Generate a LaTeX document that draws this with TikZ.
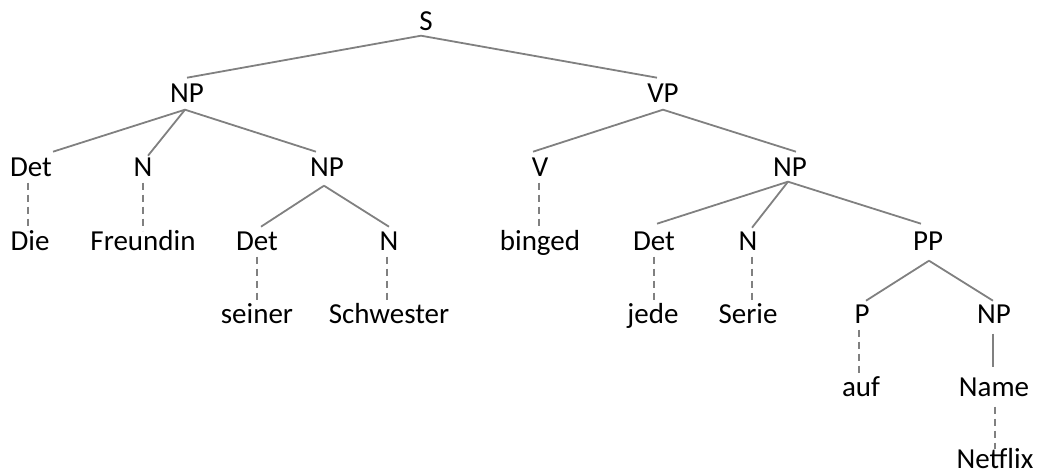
\documentclass[tikz,border=0pt]{standalone}
\usepackage{fontspec}
\setmainfont{Carlito}
\begin{document}
\begin{tikzpicture}[x=1pt,y=-1pt,
  lbl/.style={anchor=base,inner xsep=0pt,inner ysep=6pt,text height=18.6pt,text depth=0pt,
    font=\fontsize{29}{34}\selectfont},
  branch/.style={draw=black!50,line width=1.8pt},
  leaf/.style={draw=black!50,line width=1.8pt,dash pattern=on 7pt off 5pt,shorten >=-5pt}]
\useasboundingbox (0,0) rectangle (1039,476);

% phrase and word nodes, placed on their baselines
\node[lbl] (s)     at (426,30.5)  {S};
\node[lbl] (np1)   at (187,102.5) {NP};
\node[lbl] (vp)    at (663,102.5) {VP};
\node[lbl] (det1)  at (31,176.5)  {Det};
\node[lbl] (n1)    at (143,176.5) {N};
\node[lbl] (np2)   at (327,176.5) {NP};
\node[lbl] (v)     at (540,176.5) {V};
\node[lbl] (np3)   at (790,176.5) {NP};
\node[lbl] (die)   at (30,250.5)  {Die};
\node[lbl] (freu)  at (143,250.5) {Freundin};
\node[lbl] (det2)  at (257,250.5) {Det};
\node[lbl] (n2)    at (389,250.5) {N};
\node[lbl] (bing)  at (540,250.5) {binged};
\node[lbl] (det3)  at (654,250.5) {Det};
\node[lbl] (n3)    at (748,250.5) {N};
\node[lbl] (pp)    at (928,250.5) {PP};
\node[lbl] (sein)  at (257,323.5) {seiner};
\node[lbl] (schw)  at (389,323.5) {Schwester};
\node[lbl] (jede)  at (653,323.5) {jede};
\node[lbl] (serie) at (748,323.5) {Serie};
\node[lbl] (p)     at (862,323.5) {P};
\node[lbl] (np4)   at (994,323.5) {NP};
\node[lbl] (auf)   at (861,396.5) {auf};
\node[lbl] (name)  at (994,396.5) {Name};
\node[lbl] (netf)  at (995,468.5) {Netflix};

% solid branches
\draw[branch] ([xshift=-5pt,yshift=1pt]s.south) -- (np1.north);
\draw[branch] ([xshift=-5pt,yshift=1pt]s.south) -- ([xshift=-6pt]vp.north);
\draw[branch] ([xshift=-2pt,yshift=-1pt]np1.south) -- ([xshift=22pt]det1.north);
\draw[branch] ([xshift=-2pt,yshift=-1pt]np1.south) -- ([xshift=5pt,yshift=-4pt]n1.north);
\draw[branch] ([xshift=-2pt,yshift=-1pt]np1.south) -- ([xshift=-11pt]np2.north);
\draw[branch] ([xshift=-3pt,yshift=-3pt]np2.south) -- ([xshift=4pt,yshift=-1pt]det2.north);
\draw[branch] ([xshift=-3pt,yshift=-3pt]np2.south) -- ([yshift=-1pt]n2.north);
\draw[branch] ([yshift=-1pt]vp.south) -- ([xshift=-7pt]v.north);
\draw[branch] ([yshift=-1pt]vp.south) -- ([xshift=6pt]np3.north);
\draw[branch] ([xshift=-2pt,yshift=1pt]np3.south) -- ([xshift=3pt,yshift=2pt]det3.north);
\draw[branch] ([xshift=-2pt,yshift=1pt]np3.south) -- ([xshift=4pt,yshift=-2pt]n3.north);
\draw[branch] ([xshift=-2pt,yshift=1pt]np3.south) -- ([xshift=-7pt,yshift=2pt]pp.north);
\draw[branch] ([xshift=1pt,yshift=-4pt]pp.south) -- ([xshift=4pt,yshift=-2pt]p.north);
\draw[branch] ([xshift=1pt,yshift=-4pt]pp.south) -- ([xshift=-1pt,yshift=-2pt]np4.north);
\draw[branch] ([xshift=-1pt,yshift=-4pt]np4.south) -- ([xshift=-1pt,yshift=5pt]np4.south |- name.north);

% dashed links from categories to words
\draw[leaf] ([xshift=-3pt]det1.south) -- ([xshift=-3pt]det1.south |- die.north);
\draw[leaf] (n1.south) -- (n1.south |- freu.north);
\draw[leaf] (det2.south) -- (det2.south |- sein.north);
\draw[leaf] ([xshift=-2pt]n2.south) -- ([xshift=-2pt]n2.south |- schw.north);
\draw[leaf] ([xshift=-1pt]v.south) -- ([xshift=-1pt]v.south |- bing.north);
\draw[leaf] (det3.south) -- (det3.south |- jede.north);
\draw[leaf] ([xshift=4pt]n3.south) -- ([xshift=4pt]n3.south |- serie.north);
\draw[leaf] ([xshift=-3pt]p.south) -- ([xshift=-3pt]p.south |- auf.north);
\draw[leaf] ([xshift=1pt,yshift=-4pt]name.south) -- ([xshift=1pt]name.south |- netf.north);
\end{tikzpicture}
\end{document}
